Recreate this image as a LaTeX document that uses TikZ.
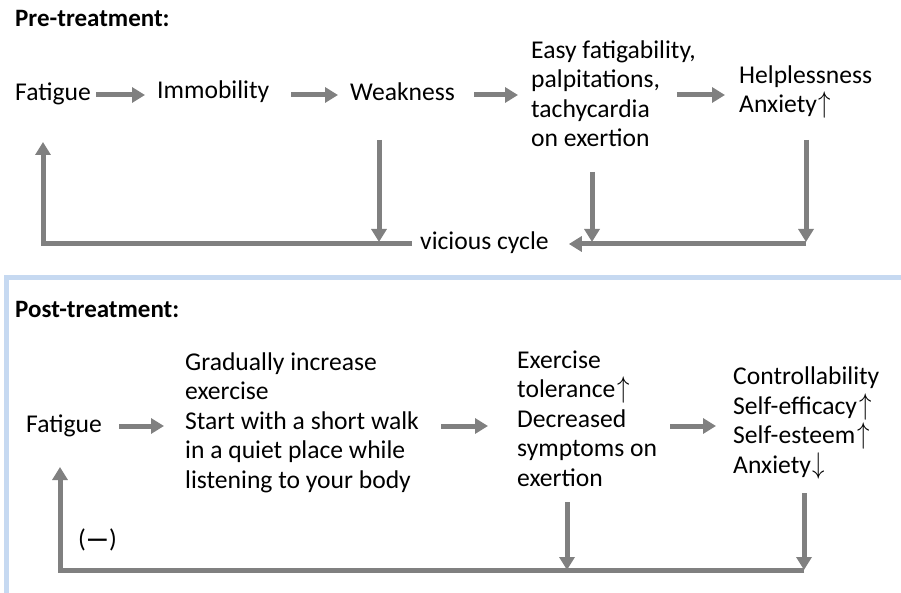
\documentclass[tikz,border=0pt]{standalone}
\usepackage{fontspec}
\usepackage{graphicx}
\setmainfont{Carlito}
\usetikzlibrary{arrows.meta, positioning}
\definecolor{flowgray}{HTML}{808080}
\definecolor{frameblue}{HTML}{C6D9F1}
\newcommand{\upar}{\kern2pt\scalebox{1}[1.2]{$\uparrow$}}
\newcommand{\downar}{\kern2pt\scalebox{1}[1.2]{$\downarrow$}}

\begin{document}
\begin{tikzpicture}[
  x=1pt, y=-1pt,
  font=\fontsize{25.6}{29.5}\selectfont,
  lbl/.style={inner sep=0pt, align=left, anchor=base west},
  word/.style={lbl, text height=18pt, text depth=6pt},
  head/.style={lbl, font=\fontsize{25}{30}\selectfont\bfseries},
  flow/.style={draw=flowgray, line width=5pt, -{Triangle[width=15pt,length=13pt]}}
]
\useasboundingbox (0,0) rectangle (901,593);

% --- Frame round the post-treatment part ---
\draw[frameblue, line width=5pt] (6,593) |- (901,278);

% --- Pre-treatment row (multi-line nodes sit on their last line) ---
\node[head] (pre) at (15,27) {Pre-treatment:};

\node[word] (fat1) at (15,101) {Fatigue};
\node[word] (imm) at (157,99) {Immobility};
\node[word] (weak) at (350,101) {Weakness};
\node[lbl] (easy) at (531,147) {Easy fatigability,\\palpitations,\\tachycardia\\on exertion};
\node[lbl] (help) at (739,113) {Helplessness\\Anxiety\upar};
\node[word] (vic) at (420,250) {vicious cycle};

\draw[flow, shorten <=5pt, shorten >=12pt] (fat1.east) -- (fat1.east -| imm.west);
\draw[flow, shorten <=22pt, shorten >=12pt] (weak.west -| imm.east) -- (weak.west);
\draw[flow, shorten <=19pt, shorten >=13pt] (weak.east) -- (weak.east -| easy.west);
\draw[flow, shorten <=-19pt, shorten >=14pt] (easy.east |- weak.east) -- (help.west |- weak.east);

% --- Vicious cycle ---
\coordinate (wdn) at (379,140);
\coordinate (edn) at (592,172);
\coordinate (hdn) at (806,140);
\coordinate (preback) at (43,142);

\draw[flow, shorten >=2pt] (wdn) -- (wdn |- vic);
\draw[flow, shorten >=2pt] (edn) -- (edn |- vic);
\draw[flow, shorten >=2pt] (hdn) -- (hdn |- vic);
\draw[flow, shorten >=20pt] (hdn |- vic) -- (vic.east);
\draw[flow, shorten <=8pt] (vic.west) -| (preback);

% --- Post-treatment row ---
\node[head] (post) at (15,317) {Post-treatment:};

\node[word] (fat2) at (26,432) {Fatigue};
\node[lbl] (grad) at (185,488) {Gradually increase\\exercise\\Start with a short walk\\in a quiet place while\\listening to your body};
\node[lbl] (exer) at (517,486) {Exercise\\tolerance\upar\\Decreased\\symptoms on\\exertion};
\node[lbl] (ctrl) at (733,473) {Controllability\\Self-efficacy\upar\\Self-esteem\upar\\Anxiety\downar};
\node[word] (neg) at (78,547) {(\textbf{—})};

\draw[flow, shorten <=17pt, shorten >=21pt] (fat2.east) -- (fat2.east -| grad.west);
\draw[flow, shorten <=22pt, shorten >=29pt] (grad.east |- fat2.east) -- (exer.west |- fat2.east);
\draw[flow, shorten <=13pt, shorten >=17pt] (exer.east |- fat2.east) -- (ctrl.west |- fat2.east);

% --- Feedback loop ---
\coordinate (xdn) at (567,502);
\coordinate (cdn) at (804,493);
\coordinate (loopc) at (804,570);
\coordinate (postback) at (60,467);

\draw[flow] (xdn) -- (xdn |- loopc);
\draw[flow] (cdn) -- (loopc);
\draw[flow] (loopc) -| (postback);

\end{tikzpicture}
\end{document}
